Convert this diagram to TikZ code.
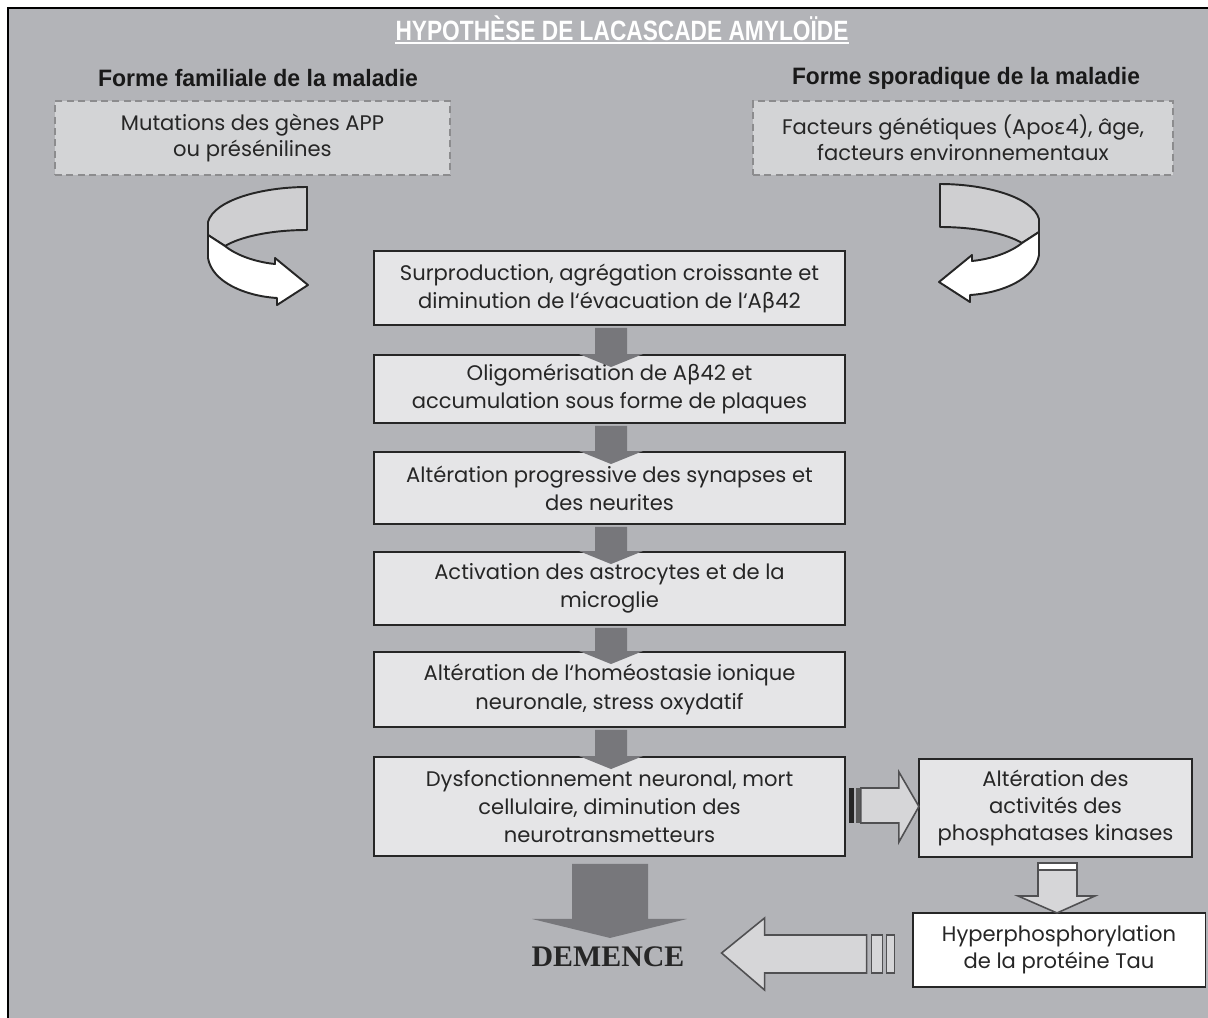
\documentclass[tikz,border=0pt]{standalone}
\usepackage{fontspec}
\usepackage{graphicx}
\setmainfont{Poppins}
\newfontfamily\grk{DejaVu Sans}
\newfontfamily\hdfont{Liberation Sans}
\newfontfamily\dmfont{Liberation Serif}
\usetikzlibrary{calc}
\definecolor{bg}{HTML}{B3B4B8}
\definecolor{boxfill}{HTML}{E5E5E7}
\definecolor{dashfill}{HTML}{D3D4D6}
\definecolor{dashline}{HTML}{8C8C8E}
\definecolor{darkarr}{HTML}{77777B}
\definecolor{lightarr}{HTML}{D6D6D8}
\definecolor{arrline}{HTML}{505052}
\definecolor{txt}{HTML}{262626}
\definecolor{curveback}{HTML}{CFCFD1}
\newcommand\curvarrow{%
  \filldraw[curvestyle, fill=curveback] (307,187) .. controls (262,187) and (214,200) .. (208,222) -- (208,235) -- (225,246) .. controls (240,237) and (270,230) .. (307,230) -- cycle;
  \filldraw[curvestyle, fill=white] (208,235) -- (208,258) .. controls (212,282) and (245,296) .. (277,298) -- (277,305) -- (308,285) -- (275,258) -- (275,264) .. controls (255,262) and (236,255) .. (225,246) -- cycle;
}
\newcommand\smallarr[2]{%
  \fill[darkarr] ($(#1.south)+(-14.5,2)$) -- ($(#2.north)+(-14.5,0)$) -- ($(#2.north)+(-30.5,0)$) -- ($(#2.north)+(1.5,13)$) -- ($(#2.north)+(33.5,0)$) -- ($(#2.north)+(17.5,0)$) -- ($(#1.south)+(17.5,2)$) -- cycle;
}
\begin{document}
\begin{tikzpicture}[x=0.02cm,y=-0.02cm,
  curvestyle/.style={draw=black!85, line width=1.1pt, line join=round},
  mainbox/.style={draw=black!85, line width=1.1pt, fill=boxfill, minimum width=9.42cm, inner sep=0pt, align=center, font=\fontsize{12}{16}\selectfont, text=txt},
  sidebox/.style={draw=black!85, line width=1.1pt, inner sep=0pt, align=center, font=\fontsize{12}{15.5}\selectfont, text=txt},
  dashbox/.style={draw=dashline, line width=1.2pt, dash pattern=on 4pt off 2.5pt, fill=dashfill, inner sep=0pt, align=center, minimum height=1.48cm, font=\fontsize{12}{15}\selectfont, text=txt},
  lightarrow/.style={draw=arrline, line width=0.9pt, fill=lightarr, line join=miter},
]
\useasboundingbox (0,0) rectangle (1208,1018);
\fill[white] (0,0) rectangle (1208,1018);
\fill[bg] (8,8) rectangle (1208,1018);
\draw[black, line width=1.6pt] (7,8) -- (1208,8);
\draw[black, line width=1.6pt] (8,7) -- (8,1018);

% title and headers
\node[text=white, inner sep=0pt, anchor=base] (title) at (622,40) {\resizebox{9.06cm}{\height}{\fontsize{15.9}{18}\hdfont\bfseries HYPOTHÈSE DE LACASCADE AMYLOÏDE}};
\draw[white, line width=1.3pt] ($(title.base west)+(0,3)$) -- ($(title.base east)+(0,3)$);
\node[text=black!90, inner sep=0pt] (hl) at (258,78) {\resizebox{6.4cm}{\height}{\fontsize{13.5}{16}\hdfont\bfseries Forme familiale de la maladie}};
\node[text=black!90, inner sep=0pt] (hr) at (966,78) {\resizebox{6.96cm}{\height}{\fontsize{13.5}{16}\hdfont\bfseries Forme sporadique de la maladie}};

% dashed boxes
\node[dashbox, minimum width=7.9cm] (dl) at (252.5,138) {Mutations des gènes APP\\ou présénilines};
\node[dashbox, minimum width=8.4cm] (dr) at (963,138) {Facteurs génétiques (Apo{\grk ε}4), âge,\\facteurs environnementaux};

% curved arrows
\curvarrow
\begin{scope}[shift={(1247,-3)}, xscale=-1]
\curvarrow
\end{scope}

% main column
\node[mainbox, minimum height=1.48cm] (b1) at (609.5,288) {Surproduction, agrégation croissante et\\diminution de l‘évacuation de l‘A{\grk β}42};
\node[mainbox, minimum height=1.36cm] (b2) at (609.5,389) {Oligomérisation de A{\grk β}42 et\\accumulation sous forme de plaques};
\node[mainbox, minimum height=1.44cm] (b3) at (609.5,488) {Altération progressive des synapses et\\des neurites};
\node[mainbox, minimum height=1.46cm] (b4) at (609.5,588.5) {Activation des astrocytes et de la\\microglie};
\node[mainbox, minimum height=1.50cm] (b5) at (609.5,689.5) {Altération de l‘homéostasie ionique\\neuronale, stress oxydatif};
\node[mainbox, minimum height=1.98cm] (b6) at (609.5,806.5) {Dysfonctionnement neuronal, mort\\cellulaire, diminution des\\neurotransmetteurs};

\smallarr{b1}{b2}
\smallarr{b2}{b3}
\smallarr{b3}{b4}
\smallarr{b4}{b5}
\smallarr{b5}{b6}

% right branch
\node[sidebox, fill=boxfill, minimum width=5.46cm, minimum height=1.96cm] (rb) at (1055.5,808) {Altération des\\activités des\\phosphatases kinases};
\node[sidebox, fill=white, minimum width=5.86cm, minimum height=1.48cm] (hb) at (1059,950) {Hyperphosphorylation\\de la protéine Tau};

% arrow b6 -> rb
\begin{scope}[shift={(b6.east)}]
  \filldraw[lightarrow] (15,-18.5) -- (53,-18.5) -- (53,-34.5) -- (73,0) -- (53,35.5) -- (53,16.5) -- (15,16.5) -- cycle;
  \fill[black!85] (3,-18.5) rectangle (8,16.5);
  \fill[black!65] (10,-18.5) rectangle (14,16.5);
\end{scope}

% arrow rb -> hb
\begin{scope}[shift={(rb.south)}]
  \filldraw[lightarrow] (-17.5,5) -- (21.5,5) -- (21.5,38) -- (39.5,38) -- (1.5,55) -- (-37.5,38) -- (-17.5,38) -- cycle;
  \filldraw[lightarrow, fill=white] (-17.5,5) rectangle (21.5,12);
\end{scope}

% arrow hb -> demence
\begin{scope}[shift={(hb.west)}]
  \filldraw[lightarrow] (-190,3) -- (-147,-32) -- (-147,-15) -- (-45,-15) -- (-45,23) -- (-147,23) -- (-147,40) -- cycle;
  \filldraw[lightarrow] (-40,-15) rectangle (-29,23);
  \filldraw[lightarrow] (-25,-15) rectangle (-17,23);
\end{scope}

% big arrow b6 -> demence
\begin{scope}[shift={(b6.south)}]
  \fill[darkarr] (-37.5,7) -- (38.5,7) -- (38.5,62) -- (77.5,62) -- (0.5,81) -- (-77.5,62) -- (-37.5,62) -- cycle;
\end{scope}

\node[anchor=base, text=black!85, inner sep=0pt] (dem) at (608,966) {\fontsize{17}{20}\dmfont\bfseries DEMENCE};
\end{tikzpicture}
\end{document}
